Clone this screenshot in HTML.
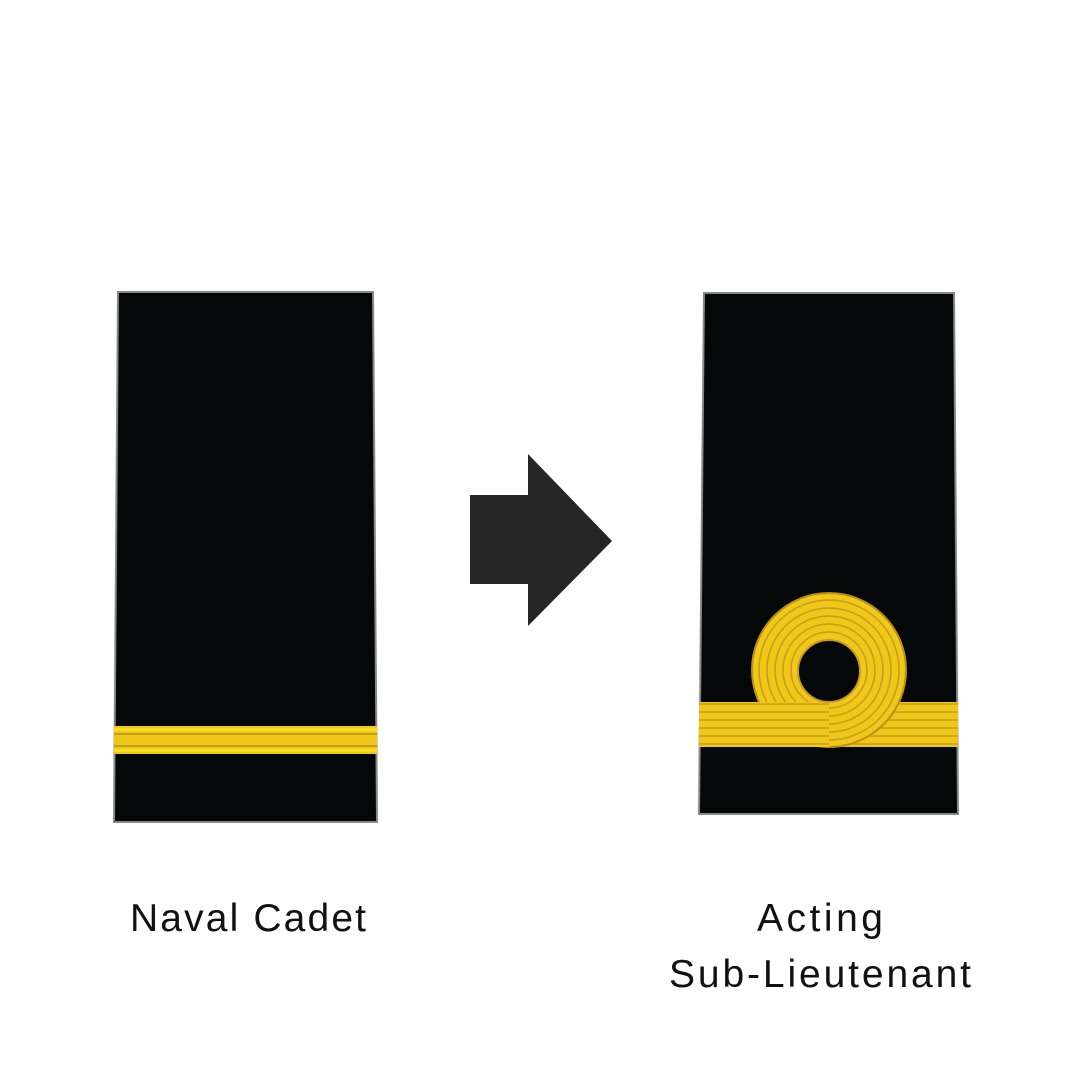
<!DOCTYPE html>
<html><head><style>
html,body{margin:0;padding:0;background:#fff;}
svg{display:block}
text{font-family:"Liberation Sans",sans-serif;font-size:39px;fill:#111;text-anchor:middle}
</style></head><body>
<svg width="1080" height="1080" viewBox="0 0 1080 1080">
<defs>
<clipPath id="q"><rect x="829" y="700" width="90" height="50"/></clipPath>
</defs>
<rect width="1080" height="1080" fill="#fff"/>
<polygon points="118,292 373,292 377,822 114,822" fill="#050808" stroke="#888" stroke-width="2"/>
<rect x="114" y="726" width="263" height="28" fill="#f0c818"/>
<rect x="114" y="728" width="263" height="3" fill="#f8e020"/>
<rect x="114" y="733" width="263" height="2" fill="#c89a20"/>
<rect x="114" y="745" width="263" height="2" fill="#c89a20"/>
<rect x="114" y="749" width="263" height="3" fill="#f8e020"/>
<polygon points="470,495 528,495 528,454 612,541 528,626 528,584 470,584" fill="#262626"/>
<polygon points="704,293 954,293 958,814 699,814" fill="#050808" stroke="#888" stroke-width="2"/>
<circle cx="829" cy="670" r="77" fill="#f0c818" stroke="#b8901a" stroke-width="2"/>
<g fill="none" stroke="#c89a20" stroke-width="1.5">
<circle cx="829" cy="670" r="70"/><circle cx="829" cy="670" r="62"/>
<circle cx="829" cy="670" r="54"/><circle cx="829" cy="670" r="46"/><circle cx="829" cy="670" r="38"/>
</g>
<rect x="699" y="702" width="259" height="45" fill="#f0c818"/>
<g stroke="#c89a20" stroke-width="1.5">
<line x1="699" y1="704" x2="958" y2="704"/><line x1="699" y1="712" x2="958" y2="712"/>
<line x1="699" y1="720" x2="958" y2="720"/><line x1="699" y1="728" x2="958" y2="728"/>
<line x1="699" y1="736" x2="958" y2="736"/><line x1="699" y1="744" x2="958" y2="744"/>
</g>
<g clip-path="url(#q)">
<circle cx="829" cy="670" r="77" fill="#f0c818" stroke="#b8901a" stroke-width="2"/>
<g fill="none" stroke="#c89a20" stroke-width="1.5">
<circle cx="829" cy="670" r="70"/><circle cx="829" cy="670" r="62"/>
<circle cx="829" cy="670" r="54"/><circle cx="829" cy="670" r="46"/><circle cx="829" cy="670" r="38"/>
</g>
</g>
<circle cx="829" cy="671" r="31" fill="#050808" stroke="#c89a20" stroke-width="2"/>
<text x="248" y="931" textLength="236" lengthAdjust="spacing">Naval Cadet</text>
<text x="820" y="931" textLength="126" lengthAdjust="spacing">Acting</text>
<text x="820" y="987" textLength="302" lengthAdjust="spacing">Sub-Lieutenant</text>
</svg>
</body></html>
